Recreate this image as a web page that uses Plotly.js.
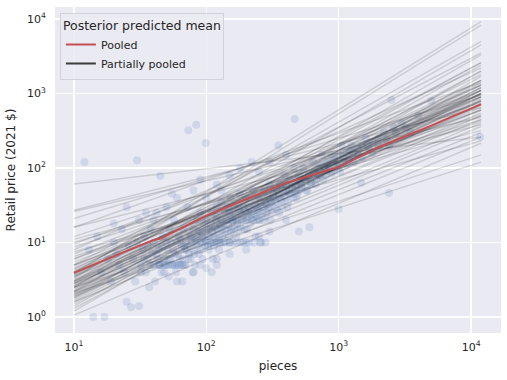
<!DOCTYPE html>
<html>
<head>
<meta charset="utf-8">
<script src="https://cdn.plot.ly/plotly-3.0.1.min.js"></script>
<style>html,body{margin:0;padding:0;background:#fff;}#chart{width:507px;height:380px;}</style>
</head>
<body>
<div id="chart"></div>
<script>
// Observed LEGO sets: [pieces, retail price (2021 $)]
const sets = [
 [12,120],[13,8],[14,1.0],[17,1.0],[15,12],[16,4],[18,6],[19,3],[20,10],[21,7],[22,5],[23,15],[24,4],[25,1.6],[26,9],[27,1.35],[28,6],[29,3],[31,1.4],[30,127],[30,10],[31,20],[32,5],[33,8],[34,12],[35,4],[36,6],[37,2.5],[38,15],[39,7],
 [40,5],[40,10],[41,3],[42,25],[43,6],[44,8],[45,78],[45,5],[46,4],[47,12],[48,6],[49,5],[50,5],[50,10],[51,8],[52,3.5],[53,15],[54,6],[55,5],[56,5],[57,20],[58,7],[59,4],[60,5],[60,10],[62,12],[63,6],[64,5],[65,9],[66,3],[67,15],[68,5],[69,8],[70,10],[70,5],
 [72,30],[73,320],[74,7],[75,12],[76,6],[78,10],[79,4],[80,15],[80,8],[82,5],[84,380],[84,10],[85,20],[86,12],[88,7],[90,10],[90,25],[92,14],[94,6],[95,10],[96,18],[98,9],[99,216],[100,10],[100,20],[100,40],[102,12],[104,8],[105,15],[108,10],[110,25],[110,10],[110,4],[112,6],
 [115,12],[118,20],[120,10],[120,30],[122,15],[125,8],[128,10],[130,20],[130,50],[132,12],[135,10],[138,25],[140,15],[140,10],[145,30],[148,12],[150,20],[150,10],[152,40],[155,15],[158,25],[160,10],[160,20],[165,30],[168,12],[170,20],[175,15],[178,45],[180,25],[182,10],[185,20],[190,30],[195,15],
 [200,20],[200,40],[200,10],[205,25],[210,30],[215,18],[220,20],[225,50],[230,25],[235,12],[240,30],[245,20],[250,40],[250,25],[255,10],[260,30],[270,20],[275,50],[280,35],[285,25],[290,40],[300,30],[300,60],[305,20],[310,35],[320,45],[330,30],[340,50],[350,40],[355,25],[360,60],[370,35],[380,50],[390,80],
 [400,40],[400,60],[410,30],[420,50],[430,70],[440,45],[450,60],[460,100],[464,455],[470,50],[480,40],[490,70],[500,50],[500,80],[500,14],[520,60],[540,100],[560,70],[580,50],[600,80],[600,16],[620,60],[640,120],[660,90],[680,70],[700,100],[720,80],[750,150],[780,100],[800,80],[820,120],[850,100],[880,150],[900,90],[950,120],
 [1000,100],[1000,150],[1000,28],[1050,200],[1100,120],[1150,160],[1200,130],[1250,200],[1300,160],[1400,150],[1480,63],[1500,200],[1600,250],[1700,180],[1800,220],[2000,250],[2200,300],[2400,200],[2400,46],[2500,815],[2600,350],[3000,400],[3500,300],[4000,500],[5000,800],[11700,260],
 [32,4],[34,6],[36,9],[38,5],[42,7],[44,5],[46,9],[48,4],[52,6],[54,10],[56,8],[58,5],[61,7],[64,11],[66,6],[68,9],[71,8],[73,6],[75,9],[77,12],[81,7],[83,11],[86,9],[88,14],[91,8],[93,12],[97,11],[101,15],[103,9],[106,12],[109,18],[111,14],[114,9],[116,16],[119,13],[121,22],[124,11],[127,17],
 [131,15],[134,18],[137,13],[142,20],[146,17],[149,25],[153,14],[157,19],[162,15],[166,22],[171,18],[176,28],[181,16],[186,24],[191,20],[197,26],[203,15],[208,22],[213,28],[219,24],[226,20],[232,32],[238,22],[244,27],[252,20],[258,35],[265,25],[272,30],[279,22],[287,32],[295,28],[303,38],[312,25],
 [322,40],[332,35],[342,28],[353,45],[365,38],[376,30],[388,42],[400,50],[415,35],[428,45],[442,55],[457,40],[473,60],[488,45],[505,65],[525,55],[545,70],[565,50],[590,75],[615,65],[640,85],[670,60],[700,80],[730,110],[760,70],[800,95],[840,110],[880,85],[920,130],[970,110],[1020,90],[1080,140],
 [1150,110],[1220,170],[1300,120],[1400,180],[1500,140],[1650,200],[1800,160],[2000,200],[2300,240],[2700,300],[3200,350],
 [60,3],[80,4],[90,5],[120,6],[150,7],[200,8],[250,12],[300,14],[400,20],[120,5],[100,4.5],[44,5],[48,5],[52,5],[62,5],[66,5],
 [150,10],[170,10],[190,10],[210,10],[230,10],[260,10],[280,10],[125,10],[115,10],
 [50,30],[60,40],[80,50],[120,60],[150,80],[180,100],[220,120],[90,70],[130,35],[300,120],[250,90],[400,150],[350,200],[40,20],[35,25],[25,30],[20,18],[55,45]
];
// Partially pooled posterior mean lines: [price at 10 pieces, price at 11900 pieces]
const lineX = [10, 11900];
const partialLines = [
 [61,260],[27,650],[26,480],[21,950],[16,380],[16,1400],[12,750],[11,320],[9.5,1100],[8.7,520],[8,2200],[7.5,230],[7,900],[6.5,420],[6,1300],[5.5,600],[5,3500],
 [3.8,9200],[3.3,8300],[4,5000],[3,4500],[2.5,3300],[2.8,2600],[2.2,2400],[1.8,2000],[3.5,2600],
 [4.5,1100],[4.2,900],[4,1300],[3.8,800],[3.6,1000],[3.4,1200],[3.2,900],[3.1,700],[3,1500],[2.9,1000],[2.8,800],[2.7,1100],[2.6,1300],[2.5,950],[2.4,700],[2.3,1200],[2.2,1000],[2.1,850],[2,1100],[1.9,1400],[1.8,900],[1.7,1200],[1.6,1000],[1.5,800],[1.4,1500],[1.3,1100],[1.2,1700],[4.8,1000],[5,800],[4.4,1500],[3.7,1800],[2.6,2000],
 [3.5,600],[3,550],[2.8,450],[2.5,500],[2.2,400],[2,360],[4,650],[5,500],[6,600],[1.9,300],[1.06,215],[2.1,120],[2.5,150],[1.6,260],[10,440]
];
// Pooled posterior mean
const pooledX = [10, 15, 20, 30, 40, 45, 60, 100, 200, 400, 700, 1000, 2000, 5000, 11900];
const pooledY = [3.9, 5.3, 6.5, 8.8, 10.8, 11.3, 14.5, 23, 38, 63, 85, 103, 190, 370, 720];

const xTickVals = [10, 100, 1000, 10000];
const xTickText = ['10<sup>1</sup>', '10<sup>2</sup>', '10<sup>3</sup>', '10<sup>4</sup>'];
const yTickVals = [1, 10, 100, 1000, 10000];
const yTickText = ['10<sup>0</sup>', '10<sup>1</sup>', '10<sup>2</sup>', '10<sup>3</sup>', '10<sup>4</sup>'];

const traces = [];
traces.push({
  x: sets.map(d => d[0]), y: sets.map(d => d[1]),
  type: 'scatter', mode: 'markers', showlegend: false, hoverinfo: 'skip',
  marker: {color: '#4c72b0', size: 8, opacity: 0.16, line: {width: 0}}
});
partialLines.forEach(l => {
  traces.push({
    x: lineX, y: l, type: 'scatter', mode: 'lines', showlegend: false, hoverinfo: 'skip',
    line: {color: 'rgba(0,0,0,0.13)', width: 1.5}
  });
});
traces.push({
  x: pooledX, y: pooledY, type: 'scatter', mode: 'lines', name: 'Pooled',
  line: {color: '#c44e52', width: 2}
});
traces.push({
  x: [null], y: [null], type: 'scatter', mode: 'lines', name: 'Partially pooled',
  line: {color: '#3c3c3c', width: 2}
});

const tickFont = {family: 'DejaVu Sans', size: 11, color: '#262626'};
const layout = {
  width: 507, height: 380,
  margin: {l: 55, r: 6, t: 7, b: 47},
  paper_bgcolor: '#ffffff', plot_bgcolor: '#eaeaf2',
  font: {family: 'DejaVu Sans', color: '#262626'},
  showlegend: true,
  legend: {
    x: 0.011, y: 0.982, xanchor: 'left', yanchor: 'top',
    bgcolor: 'rgba(234,234,242,0.85)', bordercolor: '#d2d2da', borderwidth: 1,
    font: {family: 'DejaVu Sans', size: 11, color: '#262626'},
    title: {text: 'Posterior predicted mean', font: {family: 'DejaVu Sans', size: 12.5, color: '#262626'}},
    tracegroupgap: 0
  },
  xaxis: {
    type: 'log', range: [0.857, 4.226], autorange: false,
    tickvals: xTickVals, ticktext: xTickText, tickfont: tickFont,
    showgrid: true, gridcolor: '#ffffff', gridwidth: 1.2,
    zeroline: false, showline: false, ticks: '', ticklabelstandoff: 6,
    title: {text: 'pieces', font: {family: 'DejaVu Sans', size: 12, color: '#262626'}, standoff: 8},
    automargin: false
  },
  yaxis: {
    type: 'log', range: [-0.215, 4.161], autorange: false,
    tickvals: yTickVals, ticktext: yTickText, tickfont: tickFont,
    showgrid: true, gridcolor: '#ffffff', gridwidth: 1.2,
    zeroline: false, showline: false, ticks: '', ticklabelstandoff: 8,
    title: {text: 'Retail price (2021 $)', font: {family: 'DejaVu Sans', size: 12, color: '#262626'}, standoff: 8},
    automargin: false
  }
};
Plotly.newPlot('chart', traces, layout, {displayModeBar: false, staticPlot: true});
</script>
</body>
</html>
